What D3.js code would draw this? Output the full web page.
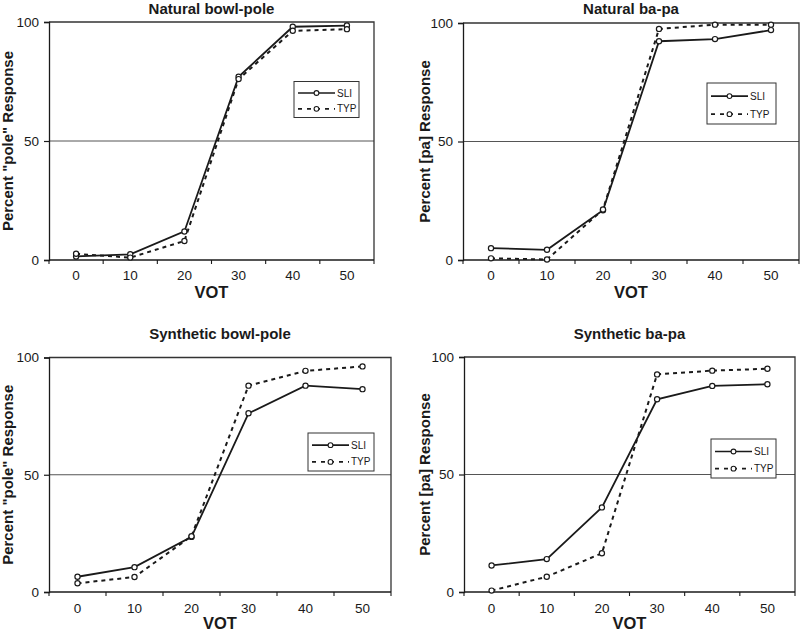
<!DOCTYPE html>
<html>
<head>
<meta charset="utf-8">
<script src="https://cdn.jsdelivr.net/npm/d3@7"></script>
<style>
  html, body { margin: 0; padding: 0; background: #fff; }
  svg { display: block; font-family: Arial, "Liberation Sans", sans-serif; }
</style>
</head>
<body>
<svg id="chart" width="800" height="633"></svg>
<script>
// ---------- data ----------
const categories = ["0", "10", "20", "30", "40", "50"];
const yTickValues = [0, 50, 100];
const seriesNames = ["SLI", "TYP"];

const panelTitles = ["Natural bowl-pole", "Natural ba-pa", "Synthetic bowl-pole", "Synthetic ba-pa"];
const yAxisLabels = ["Percent \"pole\" Response", "Percent [pa] Response", "Percent \"pole\" Response", "Percent [pa] Response"];
const xAxisLabel = "VOT";

const sliNaturalBowlPole = [1.5, 2.4, 12, 77, 98, 98.5];
const typNaturalBowlPole = [2.6, 1.0, 8, 76, 96.3, 97];
const sliNaturalBaPa     = [5.0, 4.3, 21, 92.3, 93.2, 97];
const typNaturalBaPa     = [0.7, 0.2, 21.3, 97.5, 99.3, 99.3];
const sliSyntheticBowlPole = [6.5, 10.6, 23.5, 76.2, 88, 86.5];
const typSyntheticBowlPole = [3.7, 6.4, 23.8, 88, 94.3, 96.2];
const sliSyntheticBaPa     = [11.3, 14, 36, 82, 87.7, 88.4];
const typSyntheticBaPa     = [0.6, 6.5, 16.5, 92.6, 94.2, 95];

const panelSeries = [
  [sliNaturalBowlPole, typNaturalBowlPole],
  [sliNaturalBaPa, typNaturalBaPa],
  [sliSyntheticBowlPole, typSyntheticBowlPole],
  [sliSyntheticBaPa, typSyntheticBaPa]
];

// ---------- layout ----------
const layout = [
  { left: 49,  right: 374, top: 22,  bottom: 260, titleY: 14,  yLabX: 13,  tickLabY: 20, votY: 298, legend: { x: 294, y: 81.5, w: 65, h: 36 } },
  { left: 463, right: 799, top: 23,  bottom: 260, titleY: 14,  yLabX: 430, tickLabY: 20, votY: 298, legend: { x: 707, y: 83,   w: 69, h: 41 } },
  { left: 49,  right: 391, top: 357.5, bottom: 592, titleY: 339, yLabX: 13,  tickLabY: 21, votY: 629, legend: { x: 308, y: 433,  w: 66, h: 38 } },
  { left: 464, right: 795, top: 357, bottom: 592, titleY: 339, yLabX: 430, tickLabY: 21, votY: 629, legend: { x: 711, y: 439,  w: 65, h: 39 } }
];

const ink = "#1a1a1a";
const svg = d3.select("#chart");

layout.forEach((L, i) => {
  const g = svg.append("g");
  const x = d3.scaleBand().domain(categories).range([L.left, L.right]);
  const y = d3.scaleLinear().domain([0, 100]).range([L.bottom, L.top]);

  // gridline at 50
  g.append("line")
    .attr("x1", L.left).attr("x2", L.right)
    .attr("y1", y(50)).attr("y2", y(50))
    .attr("stroke", "#555").attr("stroke-width", 1);

  // frame top & right
  g.append("path")
    .attr("d", `M${L.left},${y(100)}H${L.right}V${L.bottom}`)
    .attr("fill", "none").attr("stroke", "#333").attr("stroke-width", 1.3);

  // y axis
  const yAxis = d3.axisLeft(y).tickValues(yTickValues).tickSize(5).tickPadding(5).tickFormat(d3.format("d"));
  const ya = g.append("g").attr("transform", `translate(${L.left},0)`).call(yAxis);
  ya.select(".domain").attr("stroke", ink).attr("stroke-width", 1.3);
  ya.selectAll(".tick line").attr("stroke", ink).attr("stroke-width", 1.2);
  ya.selectAll("text").attr("font-size", "13.5px").attr("fill", ink).attr("font-family", "Arial, 'Liberation Sans', sans-serif");

  // x axis (labels at category centers)
  const xAxis = d3.axisBottom(x).tickSize(0).tickPadding(L.tickLabY - 10);
  const xa = g.append("g").attr("transform", `translate(0,${y(0)})`).call(xAxis);
  xa.select(".domain").remove();
  xa.selectAll("text").attr("font-size", "13.5px").attr("fill", ink).attr("font-family", "Arial, 'Liberation Sans', sans-serif");
  // x axis line
  g.append("line").attr("x1", L.left).attr("x2", L.right).attr("y1", y(0)).attr("y2", y(0))
    .attr("stroke", ink).attr("stroke-width", 1.3);
  // x boundary ticks
  const bounds = categories.map(c => x(c)).concat([x(categories[categories.length - 1]) + x.bandwidth()]);
  g.selectAll(".xb").data(bounds).enter().append("line")
    .attr("x1", d => d).attr("x2", d => d)
    .attr("y1", y(0)).attr("y2", y(0) + 4)
    .attr("stroke", ink).attr("stroke-width", 1.1);

  // title
  g.append("text")
    .attr("x", (L.left + L.right) / 2).attr("y", L.titleY)
    .attr("text-anchor", "middle").attr("font-weight", "bold").attr("font-size", "15px").attr("fill", ink)
    .text(panelTitles[i]);

  // y label
  g.append("text")
    .attr("transform", `translate(${L.yLabX},${(L.top + L.bottom) / 2}) rotate(-90)`)
    .attr("text-anchor", "middle").attr("font-weight", "bold").attr("font-size", "15px").attr("fill", ink)
    .text(yAxisLabels[i]);

  // x label
  g.append("text")
    .attr("x", (L.left + L.right) / 2).attr("y", L.votY)
    .attr("text-anchor", "middle").attr("font-weight", "bold").attr("font-size", "16.5px").attr("fill", ink)
    .text(xAxisLabel);

  // series
  const line = d3.line().x((d, j) => x(categories[j]) + x.bandwidth() / 2).y(d => y(d));
  panelSeries[i].forEach((vals, s) => {
    g.append("path").datum(vals)
      .attr("d", line)
      .attr("fill", "none").attr("stroke", ink)
      .attr("stroke-width", s === 0 ? 1.8 : 2)
      .attr("stroke-dasharray", s === 0 ? null : "4,4");
    g.selectAll(".m" + s).data(vals).enter().append("circle")
      .attr("cx", (d, j) => x(categories[j]) + x.bandwidth() / 2)
      .attr("cy", d => y(d))
      .attr("r", 2.6)
      .attr("fill", "#fff").attr("stroke", ink).attr("stroke-width", 1.2);
  });

  // legend
  const Lg = L.legend;
  const lg = g.append("g");
  lg.append("rect").attr("x", Lg.x).attr("y", Lg.y).attr("width", Lg.w).attr("height", Lg.h)
    .attr("fill", "#fff").attr("stroke", "#333").attr("stroke-width", 1);
  seriesNames.forEach((name, s) => {
    const cy = Lg.y + Lg.h * (s === 0 ? 0.32 : 0.76);
    lg.append("line").attr("x1", Lg.x + 4).attr("x2", Lg.x + 41).attr("y1", cy).attr("y2", cy)
      .attr("stroke", ink).attr("stroke-width", s === 0 ? 1.6 : 1.8)
      .attr("stroke-dasharray", s === 0 ? null : "4,5");
    lg.append("circle").attr("cx", Lg.x + 22.5).attr("cy", cy).attr("r", 2.4)
      .attr("fill", "#fff").attr("stroke", ink).attr("stroke-width", 1.1);
    lg.append("text").attr("x", Lg.x + 43).attr("y", cy).attr("dy", "0.35em")
      .attr("font-size", "10px").attr("fill", ink).text(name);
  });
});
</script>
</body>
</html>
